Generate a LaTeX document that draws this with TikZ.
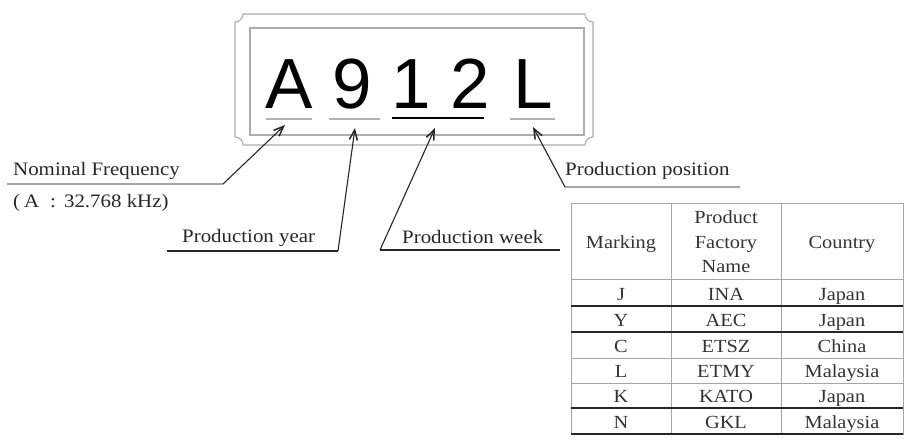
\documentclass[tikz,border=0pt]{standalone}
\usepackage{fontspec}
\setmainfont[FakeStretch=1.1]{Liberation Serif}
\newfontfamily\arialfont{Liberation Sans}
\usetikzlibrary{arrows.meta}
\begin{document}
\begin{tikzpicture}[x=1pt,y=-1pt,
  lbl/.style={anchor=base west,inner sep=0pt,text=black!85,font=\fontsize{19}{22}\selectfont},
  cell/.style={anchor=base,inner sep=0pt,text=black!80,font=\fontsize{18.5}{22}\selectfont},
  big/.style={anchor=base,inner sep=0pt,font=\arialfont\fontsize{71}{71}\selectfont},
  boxline/.style={draw=gray!65,line width=1.1pt},
  lead/.style={draw=black!85,line width=1.1pt},
  arr/.style={lead,-{Straight Barb[length=10pt,width=8pt,line width=1.5pt]}},
  grid/.style={draw=gray!70,line width=0.8pt},
  gridd/.style={draw=black!85,line width=1.2pt}]
\useasboundingbox (0,0) rectangle (906,439);
% package outline
\draw[boxline] (243,14) arc[start angle=0,end angle=90,radius=8]
  -- (235,137) arc[start angle=270,end angle=360,radius=8]
  -- (585,145) arc[start angle=180,end angle=270,radius=8]
  -- (593,22) arc[start angle=90,end angle=180,radius=8]
  -- cycle;
\draw[boxline] (250,28) rectangle (584,135);
% big marking
\node[big] (mA) at (289.5,108) {A};
\node[big] (m9) at (352.5,108) {9};
\node[big] (m1) at (411,108) {1};
\node[big] (m2) at (470.5,108) {2};
\node[big] (mL) at (533,108) {L};
\draw[draw=gray!60,line width=2pt] (266,119) -- (312,119);
\draw[draw=gray!60,line width=2pt] (329,119) -- (380,119);
\draw[draw=black,line width=1.6pt] (392,118) -- (484,118);
\draw[draw=gray!60,line width=2pt] (510,119) -- (555,119);
% tips
\coordinate (aT) at (285,125);
\coordinate (yT) at (355,128);
\coordinate (wT) at (435,128);
\coordinate (lT) at (533,127);
% labels
\node[lbl] (nf) at (13,175) {Nominal Frequency};
\node[lbl] (nfv) at (13,207) {(\hspace{4pt}A\hspace{11pt}:\hspace{8pt}32.768 kHz)};
\node[lbl] (py) at (182,242) {Production year};
\node[lbl] (pw) at (402,243) {Production week};
\node[lbl] (pp) at (565,175) {Production position};
% leaders
\coordinate (nfL) at (7,184); \coordinate (nfB) at (223,184);
\coordinate (pyL) at (167,251); \coordinate (pyB) at (338,251);
\coordinate (pwB) at (380,250); \coordinate (pwR) at (560,250);
\coordinate (ppB) at (565,187); \coordinate (ppR) at (740,187);
\draw[draw=gray!70,line width=1.6pt] (nfL) -- (nfB);
\draw[arr] (nfB) -- (aT);
\draw[lead] (pyL) -- (pyB);
\draw[arr] (pyB) -- (yT);
\draw[lead] (pwR) -- (pwB);
\draw[arr] (pwB) -- (wT);
\draw[draw=gray!70,line width=1.6pt] (ppR) -- (ppB);
\draw[arr] (ppB) -- (lT);
% table
\draw[grid] (571,203) rectangle (903,434);
\draw[grid] (671,203) -- (671,434);
\draw[grid] (781,203) -- (781,434);
\draw[grid] (571,279) -- (903,279);
\draw[gridd] (571,306) -- (903,306);
\draw[gridd] (571,332) -- (903,332);
\draw[grid] (571,358) -- (903,358);
\draw[grid] (571,383) -- (903,383);
\draw[gridd] (571,408) -- (903,408);
\draw[gridd] (571,434) -- (903,434);
\node[cell] (h1) at (621,248) {Marking};
\node[cell] (h2a) at (726,223) {Product};
\node[cell] (h2b) at (726,248) {Factory};
\node[cell] (h2c) at (726,272) {Name};
\node[cell] (h3) at (842,248) {Country};
\node[cell] (r1a) at (621,300) {J};   \node[cell] (r1b) at (726,300) {INA};  \node[cell] (r1c) at (842,300) {Japan};
\node[cell] (r2a) at (621,326) {Y};   \node[cell] (r2b) at (726,326) {AEC};  \node[cell] (r2c) at (842,326) {Japan};
\node[cell] (r3a) at (621,352) {C};   \node[cell] (r3b) at (726,352) {ETSZ}; \node[cell] (r3c) at (842,352) {China};
\node[cell] (r4a) at (621,377) {L};   \node[cell] (r4b) at (726,377) {ETMY}; \node[cell] (r4c) at (842,377) {Malaysia};
\node[cell] (r5a) at (621,402) {K};   \node[cell] (r5b) at (726,402) {KATO}; \node[cell] (r5c) at (842,402) {Japan};
\node[cell] (r6a) at (621,428) {N};   \node[cell] (r6b) at (726,428) {GKL};  \node[cell] (r6c) at (842,428) {Malaysia};
\end{tikzpicture}
\end{document}
